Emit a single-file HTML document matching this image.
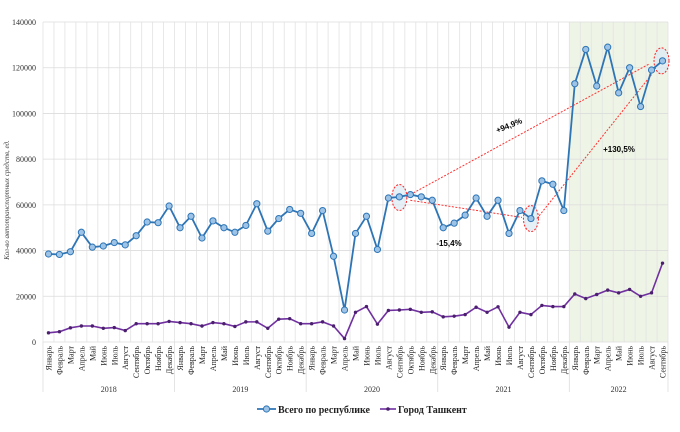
<!DOCTYPE html>
<html><head><meta charset="utf-8"><style>
body{margin:0;background:#fff;width:680px;height:427px;overflow:hidden}
</style></head><body>
<svg id="s" width="680" height="427" xmlns="http://www.w3.org/2000/svg" font-family="Liberation Serif, serif"></svg>
<script>
const blue=[38500,38300,39500,48000,41500,42000,43500,42500,46500,52500,52200,59500,
50000,55000,45500,53000,50000,48000,51000,60500,48500,54000,58000,56300,
47500,57500,37500,14000,47500,55000,40500,63000,63500,64500,63500,62000,
50000,52000,55500,63000,55000,62000,47500,57500,54000,70500,69000,57500,
113000,128000,112000,129000,109000,120000,103000,119000,123000];
const pur=[4000,4500,6200,7000,7000,6000,6300,5000,8000,8000,8000,9000,
8500,8000,7000,8500,8000,6800,8800,8800,6000,10000,10200,8000,
8000,8800,7000,1500,13000,15500,7800,13800,14000,14300,13000,13200,
11000,11300,12000,15200,13000,15400,6500,13000,12000,16000,15500,15500,
21000,19000,20800,22700,21500,23000,20000,21500,34500];
const M=["Январь","Февраль","Март","Апрель","Май","Июнь","Июль","Август","Сентябрь","Октябрь","Ноябрь","Декабрь"];
const L=43,R=668,T=22,B=342,n=57,w=(R-L)/n;
const X=i=>L+w*(i+0.5), Y=v=>B-v*(B-T)/140000;
let h='';
h+=`<rect x="${L+48*w}" y="${T}" width="${R-L-48*w}" height="${B-T}" fill="#eef5e6"/>`;
for(let i=0;i<=n;i++){const x=L+i*w;h+=`<line x1="${x}" y1="${T}" x2="${x}" y2="${B}" stroke="#e2e2e2" stroke-width="0.8"/>`;}
for(let k=0;k<=7;k++){const y=Y(k*20000);h+=`<line x1="${L}" y1="${y}" x2="${R}" y2="${y}" stroke="#dcdcdc" stroke-width="0.8"/>`;
h+=`<text x="36" y="${y+3}" font-size="8" text-anchor="end" fill="#333">${k*20000}</text>`;}
for(let i=0;i<n;i++){h+=`<text transform="translate(${X(i)+3},346) rotate(-90)" font-size="8" text-anchor="end" fill="#222">${M[i%12]}</text>`;}
for(let yr=0;yr<=5;yr++){const x=L+Math.min(yr*12,n)*w;h+=`<line x1="${x}" y1="${B}" x2="${x}" y2="392" stroke="#ddd" stroke-width="0.8"/>`;}
["2018","2019","2020","2021","2022"].forEach((t,k)=>{const a=k*12,b=Math.min(a+12,n);h+=`<text x="${L+(a+b)/2*w}" y="392" font-size="8" text-anchor="middle" fill="#333">${t}</text>`;});
h+=`<text transform="translate(9,200) rotate(-90)" font-size="7" font-style="italic" text-anchor="middle" fill="#444">Кол-во автотранспортных средств, ед.</text>`;
h+=`<g fill="#dbe9f3" fill-opacity="0.7" stroke="#ff2020" stroke-dasharray="2,1.5" stroke-width="1">
<ellipse cx="${X(32)}" cy="${Y(63200)}" rx="7.5" ry="13"/><ellipse cx="${X(44)}" cy="${Y(54000)}" rx="7.5" ry="13"/><ellipse cx="${X(56)-1}" cy="${Y(123000)}" rx="7.5" ry="13"/></g>`;
h+=`<g stroke="#ff3030" stroke-dasharray="2,1.5" stroke-width="1" fill="none">
<line x1="${X(33)}" y1="${Y(64500)}" x2="${X(55)-3}" y2="${Y(121500)}"/>
<line x1="${X(33)}" y1="${Y(62000)}" x2="${X(43)+2}" y2="${Y(54500)}"/>
<line x1="${X(44)+6}" y1="${Y(54000)}" x2="${X(55)}" y2="${Y(117000)}"/></g>`;
h+=`<text transform="translate(510,128) rotate(-22)" font-family="Liberation Sans, sans-serif" font-size="8" font-weight="bold" text-anchor="middle">+94,9%</text>`;
h+=`<text x="619" y="152" font-family="Liberation Sans, sans-serif" font-size="8" font-weight="bold" text-anchor="middle">+130,5%</text>`;
h+=`<text x="449" y="246" font-family="Liberation Sans, sans-serif" font-size="8" font-weight="bold" text-anchor="middle">-15,4%</text>`;
h+=`<polyline fill="none" stroke="#2e75b6" stroke-width="1.8" points="${blue.map((v,i)=>X(i)+','+Y(v)).join(' ')}"/>`;
blue.forEach((v,i)=>h+=`<circle cx="${X(i)}" cy="${Y(v)}" r="3.1" fill="#9dc3e6" stroke="#2e75b6" stroke-width="1"/>`);
h+=`<polyline fill="none" stroke="#7030a0" stroke-width="1.6" points="${pur.map((v,i)=>X(i)+','+Y(v)).join(' ')}"/>`;
pur.forEach((v,i)=>h+=`<circle cx="${X(i)}" cy="${Y(v)}" r="1.7" fill="#4b1f6e"/>`);
h+=`<line x1="257" y1="409" x2="276" y2="409" stroke="#2e75b6" stroke-width="1.8"/><circle cx="266.5" cy="409" r="3.1" fill="#9dc3e6" stroke="#2e75b6"/>`;
h+=`<text x="278" y="413" font-size="10" font-weight="bold" fill="#222">Всего по республике</text>`;
h+=`<line x1="380" y1="409" x2="396" y2="409" stroke="#7030a0" stroke-width="1.6"/><circle cx="388" cy="409" r="1.8" fill="#4b1f6e"/>`;
h+=`<text x="398" y="413" font-size="10" font-weight="bold" fill="#222">Город Ташкент</text>`;
document.getElementById('s').innerHTML=h;
</script>
</body></html>
